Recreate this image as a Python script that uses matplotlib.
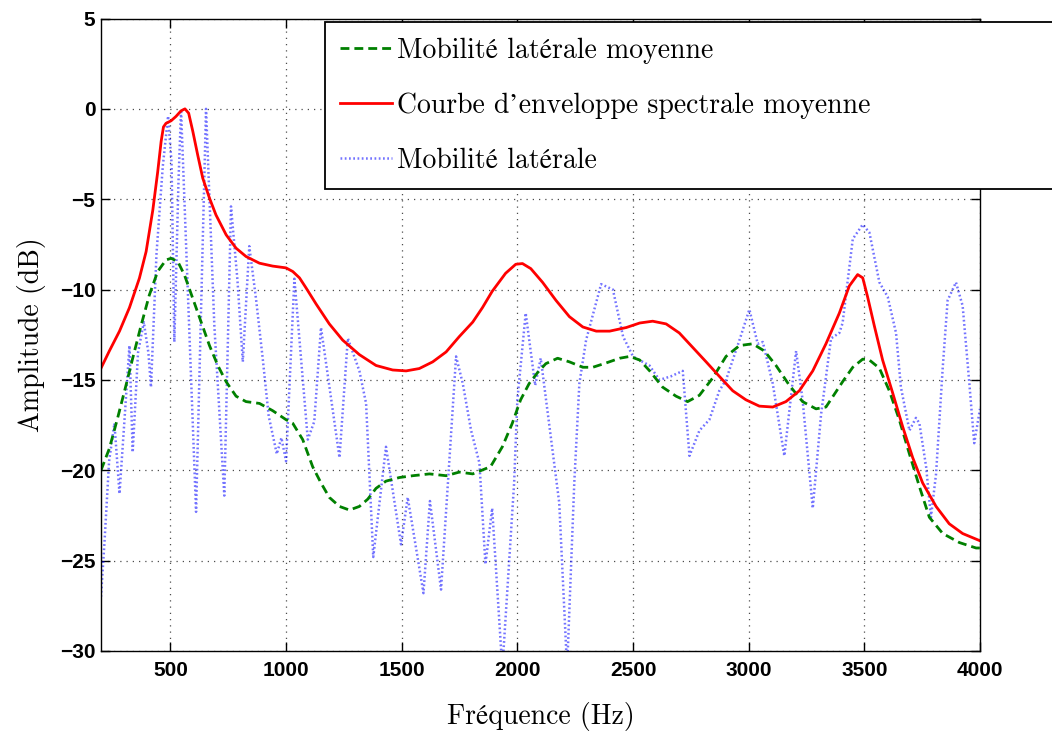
import numpy as np
import matplotlib
matplotlib.use('Agg')
import matplotlib.pyplot as plt

serif = ['cmr10', 'STIXGeneral', 'DejaVu Serif']
fs = 20.  # font size for labels and legend
fs_tick = 15.

# Courbe d'enveloppe spectrale moyenne (red)
freq_env = [200, 236, 280, 323, 366, 395, 424, 445, 460, 470, 481, 503,
            524, 546, 563, 579, 597, 618, 640, 669, 697, 741, 784, 827, 885,
            942, 971, 1000, 1029, 1058, 1086, 1130, 1187, 1245, 1317, 1389,
            1461, 1519, 1576, 1634, 1692, 1749, 1807, 1849, 1891, 1949, 1993,
            2022, 2058, 2109, 2167, 2225, 2283, 2341, 2399, 2471, 2529, 2585,
            2643, 2700, 2758, 2816, 2873, 2931, 2988, 3046, 3104, 3161, 3219,
            3277, 3334, 3392, 3435, 3471, 3493, 3514, 3543, 3579, 3622, 3666,
            3709, 3752, 3810, 3867, 3925, 4000]
env = [-14.35, -13.4, -12.3, -11.0, -9.37, -7.9, -5.6, -3.5, -1.8, -1.0,
       -0.8, -0.66, -0.42, -0.11, 0.0, -0.24, -1.25, -2.55, -3.84, -4.94,
       -5.87, -6.97, -7.71, -8.17, -8.54, -8.7, -8.75, -8.8, -9.0, -9.35,
       -9.9, -10.8, -11.9, -12.8, -13.6, -14.2, -14.45, -14.5, -14.37, -14.0,
       -13.45, -12.6, -11.8, -11.0, -10.1, -9.1, -8.6, -8.56, -8.84, -9.6,
       -10.6, -11.5, -12.07, -12.3, -12.3, -12.1, -11.85, -11.75, -11.9,
       -12.4, -13.2, -14.0, -14.8, -15.6, -16.1, -16.45, -16.5, -16.2, -15.6,
       -14.5, -13.0, -11.3, -9.8, -9.17, -9.35, -10.4, -12.0, -13.9, -15.7,
       -17.6, -19.3, -20.7, -22.0, -22.96, -23.5, -23.9]

# Mobilite laterale moyenne (green dashed)
freq_avg = [200, 236, 272, 308, 337, 373, 409, 445, 481, 503, 532, 561, 597,
            633, 669, 705, 741, 784, 827, 885, 942, 1000, 1029, 1072, 1115,
            1151, 1187, 1231, 1274, 1317, 1353, 1389, 1432, 1490, 1548, 1620,
            1692, 1749, 1807, 1884, 1935, 1978, 2014, 2051, 2087, 2123, 2174,
            2225, 2283, 2326, 2384, 2442, 2486, 2529, 2572, 2628, 2686, 2736,
            2787, 2844, 2902, 2960, 3017, 3068, 3118, 3176, 3233, 3291, 3334,
            3406, 3450, 3493, 3522, 3565, 3608, 3651, 3695, 3738, 3781, 3839,
            3911, 3983, 4000]
avg = [-20.0, -18.8, -17.1, -15.3, -13.8, -12.0, -10.3, -9.0, -8.36, -8.27,
       -8.45, -9.2, -10.5, -11.8, -13.1, -14.2, -15.1, -15.9, -16.2, -16.3,
       -16.7, -17.2, -17.4, -18.3, -19.8, -20.7, -21.5, -22.0, -22.2, -22.0,
       -21.6, -21.0, -20.6, -20.4, -20.3, -20.2, -20.3, -20.1, -20.2, -19.8,
       -18.7, -17.4, -16.1, -15.2, -14.6, -14.1, -13.8, -14.0, -14.3, -14.3,
       -14.06, -13.8, -13.7, -13.9, -14.5, -15.4, -15.9, -16.2, -15.85, -14.9,
       -13.7, -13.1, -13.0, -13.4, -14.2, -15.3, -16.2, -16.6, -16.5, -15.1,
       -14.3, -13.85, -13.9, -14.35, -15.6, -17.2, -19.1, -20.9, -22.6, -23.5,
       -24.0, -24.3, -24.3]

# Mobilite laterale (blue dotted)
freq_mob = [200, 215, 235, 258, 280, 300, 323, 337, 360, 385, 405, 416, 440,
            467, 490, 505, 517, 535, 546, 611, 654, 690, 733, 762, 790, 813,
            841, 870, 899, 925, 960, 980, 1000, 1036, 1094, 1122, 1151, 1231,
            1267, 1317, 1346, 1377, 1432, 1497, 1526, 1594, 1622, 1670, 1735,
            1764, 1800, 1836, 1862, 1891, 1935, 1986, 2000, 2036, 2077, 2101,
            2181, 2215, 2246, 2268, 2297, 2362, 2413, 2457, 2500, 2527, 2571,
            2614, 2664, 2715, 2744, 2787, 2830, 2873, 2902, 2960, 3003, 3039,
            3061, 3104, 3154, 3205, 3233, 3277, 3313, 3356, 3392, 3406, 3450,
            3493, 3522, 3565, 3601, 3637, 3658, 3695, 3723, 3738, 3767, 3788,
            3810, 3839, 3860, 3896, 3925, 3954, 3975, 4000]
mob = [-27.0, -24.0, -19.5, -17.4, -21.3, -17.5, -13.1, -19.0, -13.5, -11.8,
       -13.5, -15.4, -8.0, -3.2, -0.4, -3.0, -12.9, -4.0, -0.05, -22.3, 0.0,
       -12.0, -21.4, -5.4, -9.5, -14.0, -7.6, -10.5, -13.8, -17.0, -19.1,
       -18.2, -19.5, -9.4, -18.3, -17.3, -12.1, -19.3, -12.7, -14.5, -16.3,
       -24.8, -18.7, -24.1, -21.5, -26.8, -21.7, -26.6, -13.7, -15.2, -17.8,
       -19.6, -25.2, -22.1, -31.0, -20.7, -16.1, -11.3, -15.3, -13.8, -21.8,
       -31.0, -20.7, -15.2, -12.8, -9.7, -10.0, -12.6, -13.7, -13.9, -14.2,
       -15.0, -14.8, -14.5, -19.2, -17.8, -17.2, -15.6, -15.0, -12.8, -11.1,
       -13.0, -12.9, -15.2, -19.2, -13.4, -16.1, -22.1, -16.9, -12.7, -12.4,
       -11.85, -7.2, -6.4, -6.85, -9.6, -10.4, -12.4, -15.4, -17.8, -17.1,
       -17.4, -19.8, -22.6, -20.2, -14.3, -10.6, -9.6, -10.9, -15.2, -18.5,
       -16.6]

labels = ['Mobilité latérale moyenne',
          'Courbe d’enveloppe spectrale moyenne',
          'Mobilité latérale']
xticks = np.arange(500, 4001, 500)
yticks = np.arange(-30, 6, 5)


class Plot_Mobility(object):

    def __init__(self):
        self.fig = plt.figure(figsize=(10.52, 7.31), dpi=100)
        self.ax = self.fig.add_axes([101/1052., 1 - 651/731., 879/1052.,
                                     632.5/731.])
        self.make_plot()

    def set_fig_frame(self):
        ax = self.ax
        ax.set_xlim(200, 4000)
        ax.set_ylim(-30, 5)
        ax.set_xticks(xticks)
        ax.set_yticks(yticks)
        ax.tick_params('both', length=6.5, width=1., direction='in',
                       right=True, top=True, labelsize=fs_tick)
        ax.tick_params(axis='x', pad=7)
        ax.tick_params(axis='y', pad=4)
        for lab in ax.get_xticklabels() + ax.get_yticklabels():
            lab.set_fontfamily('Liberation Sans')
            lab.set_fontweight('bold')
        ax.grid(True, linestyle=(0, (1, 4)), color='0.3', lw=0.9)
        for sp in ax.spines.values():
            sp.set_linewidth(1.)
        ax.set_xlabel('Fréquence (Hz)', fontsize=fs, family=serif)
        ax.set_ylabel('Amplitude (dB)', fontsize=fs, family=serif)
        ax.xaxis.set_label_coords(0.5, -0.08)
        ax.yaxis.set_label_coords(-0.063, 0.5)

    def plot_quantities(self):
        ax = self.ax
        l3, = ax.plot(freq_mob, mob, color='blue', lw=1.8, alpha=0.55,
                      linestyle=(0, (0.7, 1.0)))
        l1, = ax.plot(freq_avg, avg, color=(0, 0.5, 0), lw=2.,
                      linestyle=(0, (3.2, 1.8)))
        l2, = ax.plot(freq_env, env, color='red', lw=2.)
        leg = ax.legend([l1, l2, l3], labels, loc='upper left',
                        bbox_to_anchor=(0.2548, 0., 0.85, 0.9945),
                        mode='expand', borderaxespad=0., fancybox=False,
                        framealpha=1., edgecolor='black',
                        prop={'family': serif, 'size': fs},
                        handlelength=1.87, handletextpad=0.16,
                        borderpad=0.55, labelspacing=1.03)
        leg.get_frame().set_linewidth(1.3)

    def manage_output(self):
        self.fig.savefig('out.png', dpi=100)
        plt.close(self.fig)

    def make_plot(self):
        self.set_fig_frame()
        self.plot_quantities()
        self.manage_output()


if __name__ == '__main__':
    Plot_Mobility()
